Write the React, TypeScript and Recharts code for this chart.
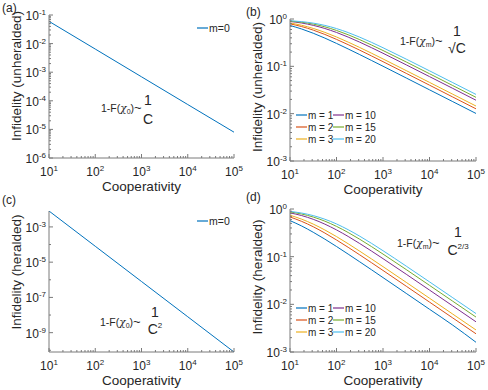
import React from "react"
import { LineChart, Line, XAxis, YAxis } from "recharts"

// cooperativity sample points (x axis)
const C_FINE = [10, 17.8, 31.6, 56.2, 100, 178, 316, 562, 1000, 3162, 10000, 31623, 100000]
const C_DECADES = [10, 100, 1000, 10000, 100000]

// (a) unheralded, m = 0
const unheraldedM0 = [0.06, 6.45e-3, 6.9e-4, 7.4e-5, 8e-6]
// (c) heralded, m = 0
const heraldedM0 = [8e-3, 8e-5, 8e-7, 8e-9, 8e-11]

// (b) unheralded, m = 1, 2, 3, 10, 15, 20
const unheraldedM1 = [0.73, 0.615, 0.5, 0.395, 0.305, 0.233, 0.177, 0.1335, 0.1005, 0.0567, 0.0319, 0.01796, 0.0101]
const unheraldedM2 = [0.79, 0.692, 0.582, 0.472, 0.371, 0.287, 0.2195, 0.1664, 0.1255, 0.071, 0.04, 0.02249, 0.01265]
const unheraldedM3 = [0.825, 0.737, 0.632, 0.522, 0.417, 0.325, 0.25, 0.19, 0.1434, 0.0812, 0.0458, 0.02576, 0.01449]
const unheraldedM10 = [0.887, 0.822, 0.734, 0.63, 0.52, 0.415, 0.324, 0.2485, 0.1889, 0.1075, 0.0607, 0.0342, 0.01923]
const unheraldedM15 = [0.905, 0.855, 0.78, 0.683, 0.573, 0.465, 0.366, 0.283, 0.216, 0.1236, 0.0698, 0.0393, 0.02213]
const unheraldedM20 = [0.92, 0.88, 0.818, 0.732, 0.628, 0.517, 0.413, 0.322, 0.247, 0.1419, 0.0804, 0.0453, 0.0255]

// (d) heralded, m = 1, 2, 3, 10, 15, 20
const heraldedM1 = [0.57, 0.44, 0.325, 0.233, 0.1635, 0.1132, 0.0779, 0.0534, 0.0364, 0.01696, 0.00788, 0.00366, 0.0016]
const heraldedM2 = [0.68, 0.55, 0.424, 0.313, 0.224, 0.1572, 0.1091, 0.0751, 0.0514, 0.024, 0.01115, 0.00518, 0.00241]
const heraldedM3 = [0.74, 0.612, 0.482, 0.363, 0.264, 0.1868, 0.1303, 0.09, 0.0618, 0.0289, 0.01344, 0.00624, 0.0029]
const heraldedM10 = [0.83, 0.728, 0.608, 0.481, 0.364, 0.2655, 0.1886, 0.1317, 0.0909, 0.0428, 0.01992, 0.00926, 0.0043]
const heraldedM15 = [0.868, 0.784, 0.678, 0.5555, 0.432, 0.3216, 0.2318, 0.1633, 0.1134, 0.0536, 0.025, 0.01162, 0.0054]
const heraldedM20 = [0.892, 0.822, 0.727, 0.61, 0.486, 0.368, 0.2689, 0.1911, 0.1334, 0.0633, 0.0296, 0.01377, 0.0064]

const M_KEYS = ["m1", "m2", "m3", "m10", "m15", "m20"]
const M_LABELS = ["m = 1", "m = 2", "m = 3", "m = 10", "m = 15", "m = 20"]
const M_COLORS = ["#0072BD", "#D95319", "#EDB120", "#7E2F8E", "#77AC30", "#4DBEEE"]

// tick labels (powers of ten)
const X_MAJOR = [10, 100, 1000, 10000, 100000]
const Y_MAJOR_A = [1e-6, 1e-5, 1e-4, 1e-3, 1e-2, 1e-1]
const Y_MAJOR_C = [1e-9, 1e-7, 1e-5, 1e-3]
const Y_DECADES_C = [1e-10, 1e-9, 1e-8, 1e-7, 1e-6, 1e-5, 1e-4, 1e-3]
const Y_MAJOR_BD = [1e-3, 1e-2, 1e-1, 1]

const FONT = "'Liberation Sans', Arial, Helvetica, sans-serif"
const INK = "#262626"
const BOX = "#7a7a7a"

const withMinors = (majors: number[], max: number) => {
  const out: number[] = []
  majors.forEach((m) => {
    for (let k = 1; k < 10; k++) {
      const v = +(m * k).toPrecision(6)
      if (v <= max * 1.000001) out.push(v)
    }
  })
  return out
}

const X_TICKS = withMinors(X_MAJOR, 1e5)
const Y_TICKS_A = withMinors(Y_MAJOR_A, 1e-1)
const Y_TICKS_BD = withMinors(Y_MAJOR_BD, 1)

const isMajor = (majors: number[], v: number) => majors.some((m) => Math.abs(m - v) / m < 1e-6)
const expOf = (v: number) => Math.round(Math.log10(v))

const makeTick = (side: string, majors: number[]) => (props: any) => {
  const { x, y, payload } = props
  const v = payload.value
  const major = isMajor(majors, v)
  const len = major ? 4 : 2
  let line
  if (side === "bottom") line = <line x1={x} y1={y} x2={x} y2={y - len} stroke={BOX} />
  else if (side === "top") line = <line x1={x} y1={y} x2={x} y2={y + len} stroke={BOX} />
  else if (side === "left") line = <line x1={x} y1={y} x2={x + len} y2={y} stroke={BOX} />
  else line = <line x1={x} y1={y} x2={x - len} y2={y} stroke={BOX} />
  let label = null
  if (major && side === "bottom") {
    label = (
      <text x={x} y={y + 18} textAnchor="middle" fontSize={12} fill={INK} fontFamily={FONT}>
        10<tspan dy={-5} fontSize={8}>{expOf(v)}</tspan>
      </text>
    )
  }
  if (major && side === "left") {
    label = (
      <text x={x - 3} y={y + 5} textAnchor="end" fontSize={12} fill={INK} fontFamily={FONT}>
        10<tspan dy={-5} fontSize={8}>{expOf(v)}</tspan>
      </text>
    )
  }
  return (
    <g>
      {line}
      {label}
    </g>
  )
}

type Geo = { left: number; top: number; x0: number; x1: number; y0: number; y1: number }

const GEO_A: Geo = { left: 0, top: 0, x0: 49, x1: 234, y0: 15, y1: 158 }
const GEO_B: Geo = { left: 244, top: 0, x0: 290, x1: 476, y0: 19, y1: 161 }
const GEO_C: Geo = { left: 0, top: 195, x0: 49, x1: 234, y0: 211, y1: 352 }
const GEO_D: Geo = { left: 244, top: 195, x0: 290, x1: 476, y0: 209, y1: 352 }

type Series = { key: string; color: string }

function Panel(props: {
  geo: Geo
  data: any[]
  series: Series[]
  yDomain: [number, number]
  yTicks: number[]
  yMajors: number[]
}) {
  const { geo, data, series, yDomain, yTicks, yMajors } = props
  const W = 244
  const H = 195
  return (
    <div style={{ position: "absolute", left: geo.left, top: geo.top }}>
      <LineChart
        width={W}
        height={H}
        data={data}
        margin={{ top: geo.y0 - geo.top, right: geo.left + W - geo.x1, bottom: 0, left: 0 }}
      >
        <XAxis
          dataKey="c"
          type="number"
          scale="log"
          domain={[10, 100000]}
          allowDataOverflow
          ticks={X_TICKS}
          interval={0}
          height={geo.top + H - geo.y1}
          tickSize={0}
          tickMargin={0}
          tickLine={false}
          axisLine={{ stroke: BOX }}
          tick={makeTick("bottom", X_MAJOR)}
        />
        <XAxis
          xAxisId="top"
          orientation="top"
          dataKey="c"
          type="number"
          scale="log"
          domain={[10, 100000]}
          allowDataOverflow
          ticks={X_TICKS}
          interval={0}
          height={0}
          tickSize={0}
          tickMargin={0}
          tickLine={false}
          axisLine={{ stroke: BOX }}
          tick={makeTick("top", X_MAJOR)}
        />
        <YAxis
          type="number"
          scale="log"
          domain={yDomain}
          allowDataOverflow
          ticks={yTicks}
          interval={0}
          width={geo.x0 - geo.left}
          tickSize={0}
          tickMargin={0}
          tickLine={false}
          axisLine={{ stroke: BOX }}
          tick={makeTick("left", yMajors)}
        />
        <YAxis
          yAxisId="right"
          orientation="right"
          type="number"
          scale="log"
          domain={yDomain}
          allowDataOverflow
          ticks={yTicks}
          interval={0}
          width={0}
          tickSize={0}
          tickMargin={0}
          tickLine={false}
          axisLine={{ stroke: BOX }}
          tick={makeTick("right", yMajors)}
        />
        {series.map((s) => (
          <Line
            key={s.key}
            dataKey={s.key}
            stroke={s.color}
            strokeWidth={1}
            dot={false}
            type="monotone"
            isAnimationActive={false}
          />
        ))}
      </LineChart>
    </div>
  )
}

const dataA = C_DECADES.map((c, i) => ({ c, m0: unheraldedM0[i] }))
const dataC = C_DECADES.map((c, i) => ({ c, m0: heraldedM0[i] }))
const dataB = C_FINE.map((c, i) => ({
  c,
  m1: unheraldedM1[i],
  m2: unheraldedM2[i],
  m3: unheraldedM3[i],
  m10: unheraldedM10[i],
  m15: unheraldedM15[i],
  m20: unheraldedM20[i],
}))
const dataD = C_FINE.map((c, i) => ({
  c,
  m1: heraldedM1[i],
  m2: heraldedM2[i],
  m3: heraldedM3[i],
  m10: heraldedM10[i],
  m15: heraldedM15[i],
  m20: heraldedM20[i],
}))

const seriesM0: Series[] = [{ key: "m0", color: M_COLORS[0] }]
const seriesM: Series[] = M_KEYS.map((key, i) => ({ key, color: M_COLORS[i] }))

function AxisTitles({ geo, yTitle, yCenter }: { geo: Geo; yTitle: string; yCenter: number }) {
  const xc = (geo.x0 + geo.x1) / 2
  const yx = geo.x0 - 33
  return (
    <g fontFamily={FONT} fill={INK} fontSize={13.5}>
      <text x={xc} y={geo.y1 + 33} textAnchor="middle">
        Cooperativity
      </text>
      <text x={yx} y={yCenter} textAnchor="middle" dominantBaseline="central" transform={`rotate(-90 ${yx} ${yCenter})`}>
        {yTitle}
      </text>
    </g>
  )
}

function LegendM0({ x, y }: { x: number; y: number }) {
  return (
    <g fontFamily={FONT} fontSize={10.5} fill={INK}>
      <line x1={x} y1={y} x2={x + 11} y2={y} stroke={M_COLORS[0]} strokeWidth={1.2} />
      <text x={x + 12} y={y + 4}>m=0</text>
    </g>
  )
}

function LegendM({ x, y }: { x: number; y: number }) {
  return (
    <g fontFamily={FONT} fontSize={10} fill={INK}>
      {M_LABELS.map((label, i) => {
        const col = Math.floor(i / 3)
        const row = i % 3
        const lx = x + col * 37
        const ly = y + row * 12
        return (
          <g key={label}>
            <line x1={lx} y1={ly} x2={lx + 11} y2={ly} stroke={M_COLORS[i]} strokeWidth={1.2} />
            <text x={lx + 12} y={ly + 3.5}>{label}</text>
          </g>
        )
      })}
    </g>
  )
}

function Scaling({ x, y, sub }: { x: number; y: number; sub: string }) {
  return (
    <g fontFamily={FONT} fill={INK}>
      <text x={x} y={y} fontSize={10.5}>
        1-F(<tspan fontStyle="italic" fontFamily="'DejaVu Serif', serif">χ</tspan>
        <tspan dy={2} fontSize={7}>{sub}</tspan>
        <tspan dy={-2}>)</tspan>
        <tspan fontSize={13}>~</tspan>
      </text>
    </g>
  )
}

function Fraction({ x, yNum, yDen, den, sup }: { x: number; yNum: number; yDen: number; den: string; sup?: string }) {
  return (
    <g fontFamily={FONT} fill={INK} fontSize={14}>
      <text x={x} y={yNum} textAnchor="middle">1</text>
      <text x={x} y={yDen} textAnchor="middle">
        {den}
        {sup ? (
          <tspan dy={-6} fontSize={8}>
            {sup}
          </tspan>
        ) : null}
      </text>
    </g>
  )
}

export default function App() {
  return (
    <div style={{ position: "absolute", left: 0, top: 0, width: 488, height: 390, background: "#fff" }}>
      <Panel geo={GEO_A} data={dataA} series={seriesM0} yDomain={[1e-6, 1e-1]} yTicks={Y_TICKS_A} yMajors={Y_MAJOR_A} />
      <Panel geo={GEO_B} data={dataB} series={seriesM} yDomain={[1e-3, 1]} yTicks={Y_TICKS_BD} yMajors={Y_MAJOR_BD} />
      <Panel geo={GEO_C} data={dataC} series={seriesM0} yDomain={[8e-11, 8e-3]} yTicks={Y_DECADES_C} yMajors={Y_MAJOR_C} />
      <Panel geo={GEO_D} data={dataD} series={seriesM} yDomain={[1e-3, 1]} yTicks={Y_TICKS_BD} yMajors={Y_MAJOR_BD} />
      <svg width={488} height={390} style={{ position: "absolute", left: 0, top: 0, pointerEvents: "none" }}>
        <g fontFamily={FONT} fontSize={12} fill={INK}>
          <text x={2} y={12}>(a)</text>
          <text x={246} y={16}>(b)</text>
          <text x={2} y={204}>(c)</text>
          <text x={246} y={201}>(d)</text>
        </g>
        <AxisTitles geo={GEO_A} yTitle="Infidelity (unheralded)" yCenter={76} />
        <AxisTitles geo={GEO_B} yTitle="Infidelity (unheralded)" yCenter={87} />
        <AxisTitles geo={GEO_C} yTitle="Infidelity (heralded)" yCenter={272} />
        <AxisTitles geo={GEO_D} yTitle="Infidelity (heralded)" yCenter={277} />

        <LegendM0 x={197} y={28} />
        <LegendM0 x={197} y={221} />
        <LegendM x={296} y={115} />
        <LegendM x={296} y={308} />

        <Scaling x={101} y={112} sub="0" />
        <Fraction x={148} yNum={105} yDen={124} den="C" />
        <Scaling x={400} y={45} sub="m" />
        <Fraction x={457} yNum={36} yDen={53} den="√C" />
        <Scaling x={100} y={326} sub="0" />
        <Fraction x={155} yNum={317} yDen={334} den="C" sup="2" />
        <Scaling x={397} y={247} sub="m" />
        <Fraction x={458} yNum={237} yDen={255} den="C" sup="2/3" />
      </svg>
    </div>
  )
}
